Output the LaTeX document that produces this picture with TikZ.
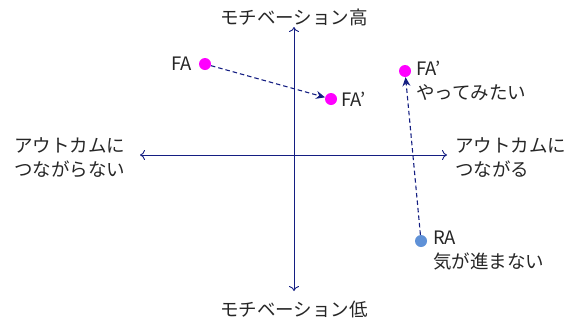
\documentclass[tikz,border=0pt]{standalone}
\usepackage{fontspec}
\setmainfont{Noto Sans CJK JP}
\usetikzlibrary{arrows.meta}
\definecolor{axisblue}{RGB}{20,30,130}
\definecolor{dotmag}{RGB}{255,0,255}
\definecolor{dotblue}{RGB}{95,145,215}
\tikzset{
  axis/.style={draw=axisblue, line width=0.9pt, {To[length=5pt,width=10pt]}-{To[length=5pt,width=10pt]}},
  move/.style={draw=axisblue, line width=1.1pt, dash pattern=on 4.5pt off 3pt, -{Stealth[length=9pt,width=8pt]}},
  dot/.style={circle, inner sep=0pt, minimum size=12pt},
  lbl/.style={font=\fontsize{18.5}{24}\selectfont, inner sep=0pt, text=black!85},
}
\begin{document}
\begin{tikzpicture}[x=1pt,y=-1pt]
\useasboundingbox (0,0) rectangle (585,327);
\coordinate (vt) at (294,27);
\coordinate (vb) at (294,291);
\coordinate (hl) at (140,155);
\coordinate (hr) at (447,155);
\draw[axis] (vb) -- (vt);
\draw[axis] (hl) -- (hr);
\node[lbl] (top) at (294,17) {モチベーション高};
\node[lbl] (bot) at (294,309) {モチベーション低};
\node[lbl, align=left, anchor=west] (left) at (14,158) {アウトカムに\\つながらない};
\node[lbl, align=left, anchor=west] (right) at (455,158) {アウトカムに\\つながる};
\node[dot, fill=dotmag] (fa) at (205,64) {};
\node[dot, fill=dotmag] (fa1) at (331,99) {};
\node[dot, fill=dotmag] (fa2) at (405,71) {};
\node[dot, fill=dotblue] (ra) at (421,241) {};
\node[lbl, anchor=east] (tfa) at (192,64) {FA};
\node[lbl, anchor=west] (tfa1) at (341,99) {FA’};
\node[lbl, anchor=north west, align=left] (tfa2) at (416,61) {FA’\\やってみたい};
\node[lbl, anchor=north west, align=left] (tra) at (433,231) {RA\\気が進まない};
\draw[move] (fa) -- (fa1);
\draw[move] (ra) -- (fa2);
\end{tikzpicture}
\end{document}
